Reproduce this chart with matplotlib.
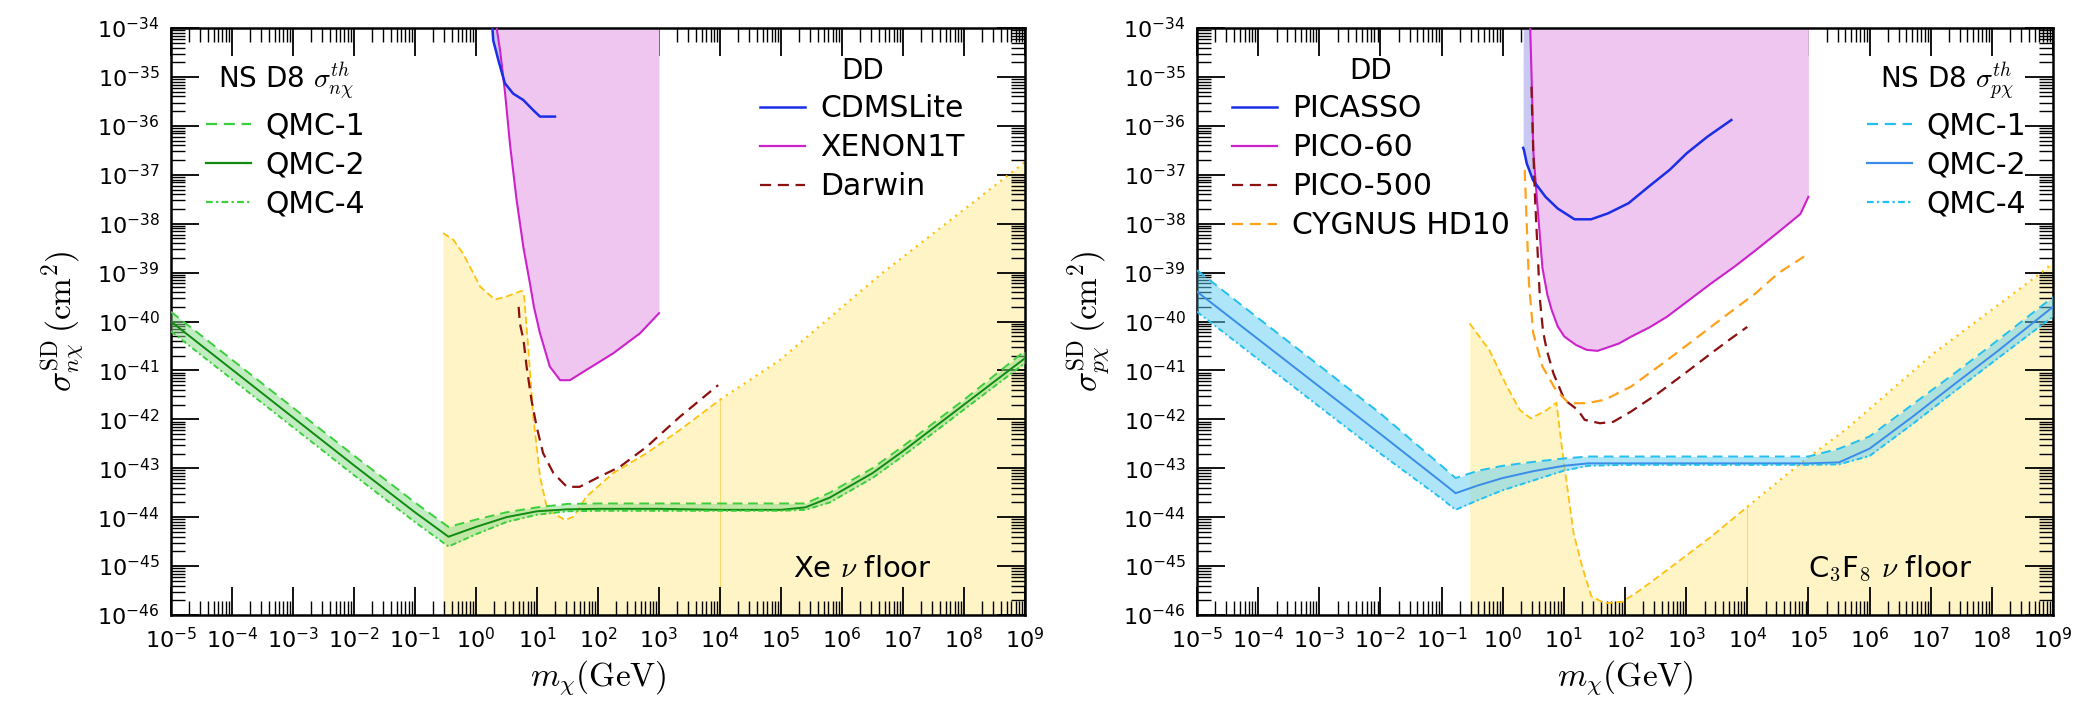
import numpy as np
import matplotlib
matplotlib.use('agg')
import matplotlib.pyplot as plt
from matplotlib.lines import Line2D
from matplotlib.ticker import LogLocator, NullFormatter
from matplotlib.font_manager import FontProperties

# ---- data (log10 of mass in GeV, log10 of cross section in cm^2) ----
# left panel: neutron, Xe
xe_floor_lm = [-0.54, -0.37, -0.21, 0.07, 0.31, 0.50, 0.75, 0.79, 0.86, 0.94, 1.05, 1.16,
               1.27, 1.46, 1.60, 1.81, 2.25, 2.80, 3.34, 4.0, 4.98, 6.62, 9.0]
xe_floor_ls = [-38.19, -38.33, -38.61, -39.29, -39.55, -39.49, -39.37, -39.49, -40.58, -41.95,
               -43.17, -43.79, -43.92, -44.06, -43.99, -43.58, -43.10, -42.69, -42.22, -41.60,
               -40.79, -39.05, -36.74]

cdms_lm = [0.27, 0.283, 0.366, 0.42, 0.475, 0.61, 0.775, 0.94, 1.05, 1.295]
cdms_ls = [-34.0, -34.25, -34.65, -34.89, -35.13, -35.34, -35.47, -35.68, -35.81, -35.81]

x1t_lm = [0.34, 0.40, 0.475, 0.56, 0.667, 0.78, 0.885, 0.95, 1.05, 1.21, 1.38, 1.54, 1.81,
          2.25, 2.69, 3.0]
x1t_ls = [-34.0, -34.5, -35.3, -36.4, -37.52, -38.5, -39.22, -39.7, -40.24, -40.92, -41.2,
          -41.2, -40.99, -40.65, -40.24, -39.83]

darwin_lm = [0.70, 0.72, 0.78, 0.83, 0.91, 0.995, 1.10, 1.27, 1.49, 1.70, 2.03, 2.36, 2.80,
             3.34, 3.97]
darwin_ls = [-39.70, -40.04, -40.38, -40.92, -41.60, -42.15, -42.69, -43.10, -43.38, -43.38,
             -43.17, -42.97, -42.56, -41.95, -41.30]

qmc_n_lm = [-5, -4, -3, -2, -1, -0.45, 0, 0.5, 1, 1.5, 2, 3, 4, 5, 5.4, 5.8, 6.5, 7, 8, 9]
qmc1_n = [-39.8, -40.78, -41.76, -42.74, -43.7, -44.2, -44.05, -43.9, -43.8, -43.73, -43.72,
          -43.72, -43.72, -43.72, -43.72, -43.5, -43.0, -42.55, -41.6, -40.6]
qmc2_n = [-40.0, -40.98, -41.96, -42.94, -43.9, -44.4, -44.2, -44.0, -43.88, -43.84, -43.83,
          -43.83, -43.85, -43.85, -43.8, -43.6, -43.1, -42.65, -41.7, -40.75]
qmc4_n = [-40.2, -41.18, -42.16, -43.14, -44.1, -44.6, -44.35, -44.1, -43.95, -43.88, -43.87,
          -43.87, -43.87, -43.87, -43.85, -43.7, -43.2, -42.75, -41.8, -40.85]

# right panel: proton, C3F8
cf_floor_lm = [-0.54, -0.22, 0.07, 0.28, 0.46, 0.72, 0.88, 0.94, 1.01, 1.16, 1.30, 1.45, 1.67,
               1.96, 2.25, 2.69, 3.41, 4.0, 4.87, 5.6, 7.05, 8.8, 9.0]
cf_floor_ls = [-40.04, -40.58, -41.33, -41.81, -41.98, -41.81, -41.66, -42.29, -42.97, -44.33,
               -45.01, -45.62, -45.76, -45.73, -45.49, -45.08, -44.40, -43.79, -42.90, -42.22,
               -40.65, -39.01, -38.8]

picasso_lm = [0.335, 0.347, 0.394, 0.496, 0.70, 0.90, 1.175, 1.446, 1.72, 2.06, 2.39, 2.73,
              3.01, 3.35, 3.74]
picasso_ls = [-36.45, -36.49, -36.77, -37.11, -37.45, -37.69, -37.91, -37.91, -37.79, -37.58,
              -37.24, -36.90, -36.56, -36.22, -35.88]

pico60_lm = [0.45, 0.48, 0.50, 0.56, 0.65, 0.73, 0.80, 0.90, 1.01, 1.2, 1.375, 1.55, 1.67, 1.9,
             2.1, 2.4, 2.69, 3.05, 3.41, 3.8, 4.14, 4.5, 4.87, 5.0]
pico60_ls = [-34.0, -35.3, -36.5, -37.5, -38.9, -39.45, -39.76, -40.1, -40.31, -40.48, -40.58,
             -40.6, -40.55, -40.45, -40.31, -40.12, -39.9, -39.56, -39.22, -38.87, -38.54,
             -38.18, -37.8, -37.45]

pico500_lm = [0.47, 0.50, 0.53, 0.58, 0.61, 0.66, 0.72, 0.83, 1.01, 1.23, 1.34, 1.59, 1.81,
              2.10, 2.54, 2.98, 3.41, 3.70, 4.0]
pico500_ls = [-35.2, -36.5, -37.5, -38.8, -39.56, -40.2, -40.58, -41.06, -41.6, -41.81, -42.01,
              -42.08, -42.05, -41.84, -41.47, -41.06, -40.65, -40.38, -40.11]

cygnus_lm = [0.36, 0.43, 0.50, 0.65, 0.87, 1.08, 1.375, 1.67, 2.10, 2.69, 3.27, 3.70, 4.14,
             4.51, 4.93]
cygnus_ls = [-36.9, -39.22, -40.24, -40.92, -41.40, -41.67, -41.67, -41.60, -41.33, -40.79,
             -40.24, -39.83, -39.42, -39.01, -38.67]

qmc_p_lm = [-5, -4, -3, -2, -1, -0.77, -0.4, 0, 0.5, 1.0, 1.4, 2, 3, 4, 5, 5.5, 6, 6.7, 7.4,
            8.1, 9]
qmc1_p = [-38.95, -39.93, -40.9, -41.88, -42.95, -43.2, -43.05, -42.95, -42.87, -42.8, -42.76,
          -42.76, -42.76, -42.76, -42.76, -42.6, -42.35, -41.7, -41.05, -40.38, -39.5]
qmc2_p = [-39.39, -40.36, -41.33, -42.3, -43.28, -43.51, -43.35, -43.2, -43.06, -42.95, -42.9,
          -42.9, -42.9, -42.9, -42.9, -42.88, -42.6, -41.95, -41.27, -40.6, -39.7]
qmc4_p = [-39.8, -40.77, -41.74, -42.7, -43.62, -43.85, -43.65, -43.45, -43.25, -43.05, -42.95,
          -42.93, -42.93, -42.93, -42.93, -42.92, -42.75, -42.1, -41.42, -40.75, -39.9]


def p10(a):
    return 10.0 ** np.array(a)


def setup(ax):
    ax.set_xscale('log')
    ax.set_yscale('log')
    ax.set_xlim(1e-5, 1e9)
    ax.set_ylim(1e-46, 1e-34)
    for axis in (ax.xaxis, ax.yaxis):
        axis.set_major_locator(LogLocator(base=10, numticks=40))
        axis.set_minor_locator(LogLocator(base=10, subs=np.arange(2, 10), numticks=400))
        axis.set_minor_formatter(NullFormatter())
    ax.tick_params(which='both', direction='in', top=True, right=True, labelsize=16)
    ax.tick_params(axis='x', which='major', pad=9)
    ax.tick_params(axis='y', which='major', pad=8)
    ax.tick_params(which='major', length=20, width=1.3)
    ax.tick_params(which='minor', length=10, width=1.0)
    for s in ax.spines.values():
        s.set_linewidth(1.8)
    ax.set_xlabel(r'$m_\chi({\rm GeV})$', fontsize=24, math_fontfamily='cm', labelpad=4)


def floor(ax, lm, ls):
    lm = np.array(lm)
    ax.fill_between(p10(lm), p10(ls), 1e-46, color='#FFF4C6', lw=0, zorder=1)
    k = int(np.searchsorted(lm, 4.0))
    ax.plot(p10(lm[:k + 1]), p10(ls[:k + 1]), color='#FFC20E', lw=1.3, ls=(0, (4, 2)), zorder=2)
    ax.plot(p10(lm[k:]), p10(ls[k:]), color='#FFC20E', lw=1.6, ls=(0, (1, 2.2)), zorder=2)
    top = 10 ** np.interp(4.0, lm, ls)
    ax.plot([1e4, 1e4], [1e-46, top], color='#F7D970', lw=0.8, zorder=1.5)


def band(ax, lm, s1, s2, s4, fill, light, dark):
    ax.fill_between(p10(lm), p10(s1), p10(s4), color=fill, alpha=0.5, lw=0, zorder=3)
    ax.plot(p10(lm), p10(s1), color=light, lw=1.4, ls=(0, (5, 3)), zorder=4)
    ax.plot(p10(lm), p10(s2), color=dark, lw=1.4, zorder=4)
    ax.plot(p10(lm), p10(s4), color=light, lw=1.4, ls=(0, (3, 1.5, 1, 1.5)), zorder=4)
    return [Line2D([], [], color=light, lw=1.6, ls=(0, (5, 3))),
            Line2D([], [], color=dark, lw=1.6),
            Line2D([], [], color=light, lw=1.6, ls=(0, (3, 1.5, 1, 1.5)))]


fig = plt.figure(figsize=(20.97, 7.14), dpi=100)
axL = fig.add_axes([0.0815, 0.1387, 0.4073, 0.822])
axR = fig.add_axes([0.5708, 0.1387, 0.4082, 0.822])

title_fp = FontProperties(family='DejaVu Sans', size=20, math_fontfamily='cm')
leg_kw = dict(frameon=False, fontsize=21.5, handlelength=1.5, handletextpad=0.5,
              labelspacing=0.33, borderaxespad=0.2)

# ---------------- left panel ----------------
ax = axL
setup(ax)
floor(ax, xe_floor_lm, xe_floor_ls)
ax.fill_between(p10(cdms_lm), p10(cdms_ls), 1e-34, color='#C8C8F2', lw=0, zorder=2)
ax.fill_between(p10(x1t_lm), p10(x1t_ls), 1e-34, color='#EFC6EF', lw=0, zorder=2.5)
ax.plot(p10(x1t_lm), p10(x1t_ls), color='#CC22CC', lw=1.5, zorder=5)
ax.plot(p10(cdms_lm), p10(cdms_ls), color='#1A2EE8', lw=1.8, zorder=5)
ax.plot(p10(darwin_lm), p10(darwin_ls), color='#8B1010', lw=1.6, ls=(0, (5, 3)), zorder=5)
hq = band(ax, qmc_n_lm, qmc1_n, qmc2_n, qmc4_n, '#86DC86', '#3CCF3C', '#108A10')

leg1 = ax.legend(hq, ['QMC-1', 'QMC-2', 'QMC-4'], title=r'NS D8 $\sigma^{th}_{n\chi}$',
                 title_fontproperties=title_fp, loc='upper left', bbox_to_anchor=(0.02, 0.975),
                 **leg_kw)
ax.add_artist(leg1)
hd = [Line2D([], [], color='#1A2EE8', lw=1.8),
      Line2D([], [], color='#CC22CC', lw=1.6),
      Line2D([], [], color='#8B1010', lw=1.6, ls=(0, (5, 3)))]
ax.legend(hd, ['CDMSLite', 'XENON1T', 'Darwin'], title='DD', title_fontproperties=title_fp,
          loc='upper right', bbox_to_anchor=(0.95, 0.982), **leg_kw)
ax.text(0.81, 0.078, r'Xe $\nu$ floor', transform=ax.transAxes, ha='center', va='center',
        fontsize=21, math_fontfamily='cm', zorder=6)
ax.set_ylabel(r'$\sigma^{\rm SD}_{n\chi}\,({\rm cm}^2)$', fontsize=24, math_fontfamily='cm',
              labelpad=8)

# ---------------- right panel ----------------
ax = axR
setup(ax)
floor(ax, cf_floor_lm, cf_floor_ls)
ax.fill_between(p10(picasso_lm), p10(picasso_ls), 1e-34, color='#C8C8F2', lw=0, zorder=2)
ax.fill_between(p10(pico60_lm), p10(pico60_ls), 1e-34, color='#EFC6EF', lw=0, zorder=2.5)
ax.plot(p10(pico60_lm), p10(pico60_ls), color='#CC22CC', lw=1.5, zorder=5)
ax.plot(p10(picasso_lm), p10(picasso_ls), color='#1A2EE8', lw=1.8, zorder=5)
ax.plot(p10(pico500_lm), p10(pico500_ls), color='#8B1010', lw=1.6, ls=(0, (5, 3)), zorder=5)
ax.plot(p10(cygnus_lm), p10(cygnus_ls), color='#FFA11A', lw=1.6, ls=(0, (5, 3)), zorder=5)
hq = band(ax, qmc_p_lm, qmc1_p, qmc2_p, qmc4_p, '#5FCDF2', '#22C0F0', '#3A8CE8')

hd = [Line2D([], [], color='#1A2EE8', lw=1.8),
      Line2D([], [], color='#CC22CC', lw=1.6),
      Line2D([], [], color='#8B1010', lw=1.6, ls=(0, (5, 3))),
      Line2D([], [], color='#FFA11A', lw=1.6, ls=(0, (5, 3)))]
leg2 = ax.legend(hd, ['PICASSO', 'PICO-60', 'PICO-500', 'CYGNUS HD10'], title='DD',
                 title_fontproperties=title_fp, loc='upper left', bbox_to_anchor=(0.02, 0.982),
                 **leg_kw)
ax.add_artist(leg2)
ax.legend(hq, ['QMC-1', 'QMC-2', 'QMC-4'], title=r'NS D8 $\sigma^{th}_{p\chi}$',
          title_fontproperties=title_fp, loc='upper right', bbox_to_anchor=(0.99, 0.975),
          **leg_kw)
ax.text(0.81, 0.078, r'C$_3$F$_8$ $\nu$ floor', transform=ax.transAxes, ha='center',
        va='center', fontsize=21, math_fontfamily='cm', zorder=6)
ax.set_ylabel(r'$\sigma^{\rm SD}_{p\chi}\,({\rm cm}^2)$', fontsize=24, math_fontfamily='cm',
              labelpad=8)

fig.savefig('out.png', dpi=100)
